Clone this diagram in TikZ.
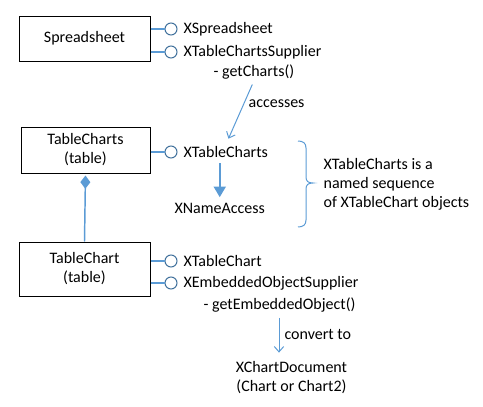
\documentclass[tikz,border=0pt]{standalone}
\usepackage{fontspec}
\setmainfont{Carlito}
\usetikzlibrary{positioning,arrows.meta,calc}
\definecolor{linkblue}{RGB}{91,155,213}
\definecolor{portblue}{RGB}{65,113,156}
\tikzset{box node/.style={draw,rectangle,align=center,inner sep=0pt,line width=0.75pt}}
\tikzset{port node/.style={circle,draw=portblue,minimum size=9pt,inner sep=0pt,line width=0.75pt}}
\tikzset{text node/.style={anchor=west,inner sep=1pt}}
\tikzset{link/.style={linkblue,line width=1.1pt}}

\begin{document}
\begin{tikzpicture}[x=0.75pt,y=-0.75pt,font=\fontsize{12pt}{14.25pt}\selectfont]
\useasboundingbox (0,0) rectangle (483,407);

% components
\node[box node,minimum width=98.25pt,minimum height=33.75pt] (ss) at (84.5,38.5) {Spreadsheet};
\node[box node,minimum width=96.75pt,minimum height=34.5pt] (tcs) at (85.5,150) {TableCharts\\(table)};
\node[box node,minimum width=98.25pt,minimum height=40.5pt] (tc) at (84.5,269) {TableChart\\(table)};

% interface ports
\node[port node] (p1) at (171,29) {};
\node[port node] (p2) at (171,52) {};
\node[port node] (p3) at (171,152) {};
\node[port node] (p4) at (171,261) {};
\node[port node] (p5) at (171,283) {};

\foreach \b/\p in {ss/p1,ss/p2,tcs/p3,tc/p4,tc/p5}{
    \draw[link] (\b.east |- \p) -- (\p.west);
}

% interface names
\node[text node] (xss) at (182,29) {XSpreadsheet};
\node[text node] (xtcs) at (182,52) {XTableChartsSupplier};
\node[text node] (gch) at (212,72) {- getCharts()};
\node[text node] (acc) at (247,104) {accesses};
\node[text node] (xtc) at (182,152) {XTableCharts};
\node[text node] (xna) at (173,208) {XNameAccess};
\node[text node] (xtch) at (182,261) {XTableChart};
\node[text node] (xeos) at (182,283) {XEmbeddedObjectSupplier};
\node[text node] (geo) at (202,305) {- getEmbeddedObject()};
\node[text node] (cnv) at (283,334) {convert to};
\node[align=center] (xcd) at (291.5,377.5) {XChartDocument\\(Chart or Chart2)};
\node[text node,align=left] (note) at (322,184) {XTableCharts is a\\named sequence\\of XTableChart objects};

% relations
\draw[link,{Diamond[length=10pt,width=7.5pt]}-,shorten <=1.5pt] (tcs.south) -- (tc.north);
\draw[link,line width=0.75pt,-{Straight Barb[length=4pt,width=7pt]},shorten <=3pt,shorten >=5pt] (gch.south) -- (xtc.north);
\draw[link,line width=1.5pt,-{Triangle[length=8pt,width=9pt]},shorten <=3pt,shorten >=3pt] (xna.north |- xtc.south) -- (xna.north);
\draw[link,line width=0.75pt,-{Straight Barb[length=4pt,width=7pt]},shorten <=3pt,shorten >=3pt] ($(cnv.west |- geo.south)+(-4,0)$) -- ($(cnv.west |- xcd.north)+(-4,0)$);

% brace
\draw[link,line width=0.75pt] (298,141) .. controls (303,141) and (306,143) .. (306,148) -- (306,177)
    .. controls (306,181) and (308,183) .. (313,183) .. controls (308,183) and (306,185) .. (306,189)
    -- (306,220) .. controls (306,225) and (303,227) .. (298,227);
\end{tikzpicture}
\end{document}
